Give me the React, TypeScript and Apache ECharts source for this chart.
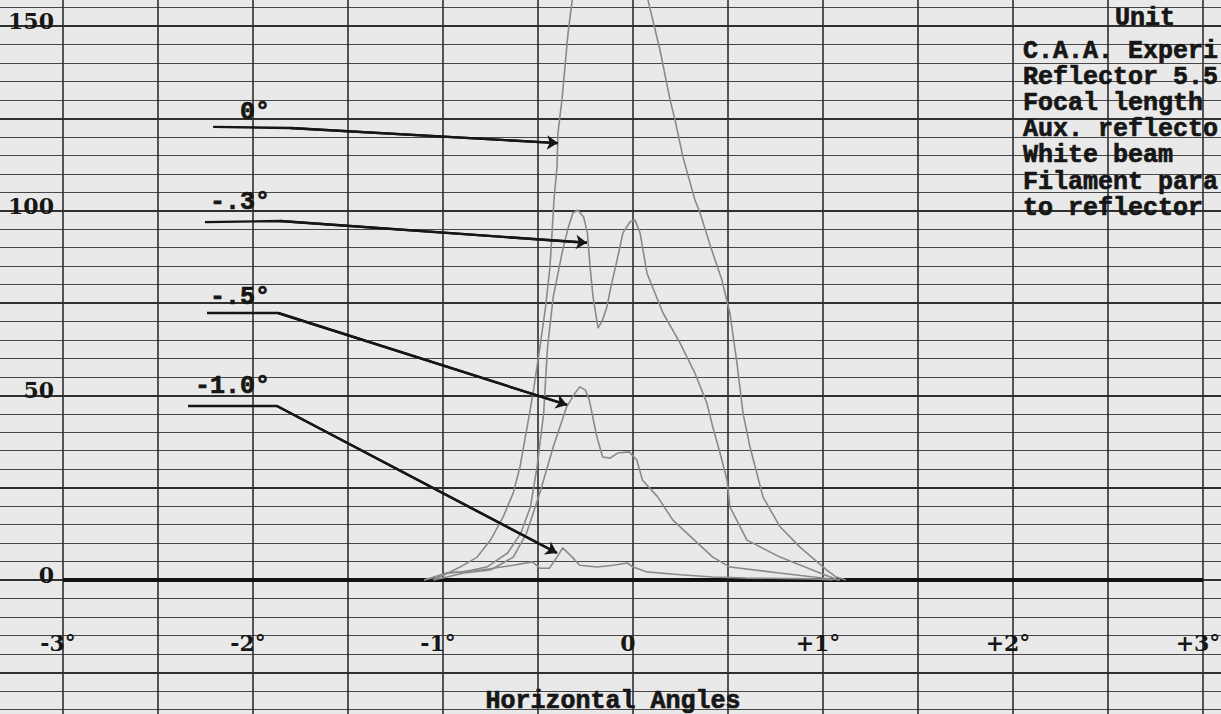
import React, { useEffect, useRef } from "react";
import * as echarts from "echarts";

// Axis ticks
const xTickValues = [-3, -2, -1, 0, 1, 2, 3];
const xTickLabels = ["-3°", "-2°", "-1°", "0", "+1°", "+2°", "+3°"];
const yTickValues = [0, 50, 100, 150];

// Zero baseline drawn across the full angle range
const baseline = [[-3, 0], [3, 0]];

// Candlepower curves (x: horizontal angle in degrees, y: value)
const curve0 = [
  [-1.1, 0], [-1.0, 1.2], [-0.91, 3.5], [-0.82, 6.2], [-0.75, 10.8], [-0.684, 17], [-0.63, 23.6],
  [-0.595, 30.6], [-0.56, 40.6], [-0.526, 50.6], [-0.49, 63], [-0.46, 74], [-0.437, 84.8],
  [-0.426, 94], [-0.416, 102.9], [-0.4, 111.8], [-0.395, 121], [-0.374, 130], [-0.358, 138.9],
  [-0.342, 148], [-0.32, 157], [-0.27, 172], [-0.18, 183], [-0.1, 185], [-0.02, 176], [0.04, 166],
  [0.079, 157], [0.142, 143.5], [0.195, 130], [0.221, 124.6], [0.263, 114.5], [0.326, 102.9],
  [0.353, 99.4], [0.41, 90], [0.468, 81.2], [0.51, 72.3], [0.547, 58.8], [0.579, 45.2], [0.616, 36],
  [0.684, 22.5], [0.774, 14.4], [0.879, 8.9], [1.02, 2.7], [1.07, 0.8], [1.12, 0],
];
const curveM03 = [
  [-1.1, 0], [-0.98, 1.9], [-0.89, 2.2], [-0.77, 3.5], [-0.66, 7.3], [-0.59, 12.7], [-0.54, 19.8],
  [-0.505, 30.6], [-0.47, 45.2], [-0.45, 63], [-0.42, 76.6], [-0.37, 89.4], [-0.34, 95.6],
  [-0.316, 99.4], [-0.29, 100.2], [-0.26, 98.3], [-0.24, 94], [-0.226, 84.8], [-0.21, 76.6],
  [-0.184, 68.2], [-0.16, 70.4], [-0.137, 74], [-0.12, 78.5], [-0.084, 86.6], [-0.053, 94],
  [-0.016, 97], [0.01, 97.5], [0.037, 94], [0.074, 83], [0.158, 72.3], [0.247, 64.2], [0.326, 56],
  [0.389, 47.9], [0.42, 41.4], [0.458, 34.4], [0.495, 27], [0.51, 19.8], [0.6, 10.8], [0.774, 6.2],
  [0.984, 1.9], [1.08, 0],
];
const curveM05 = [
  [-1.05, 0], [-0.98, 0.8], [-0.89, 1.9], [-0.75, 2.7], [-0.63, 6.2], [-0.56, 12.7], [-0.49, 23.6],
  [-0.42, 36], [-0.35, 46.8], [-0.305, 50.6], [-0.28, 52.3], [-0.25, 51.4], [-0.23, 48.7],
  [-0.19, 38.7], [-0.16, 33.3], [-0.12, 33], [-0.08, 34.4], [-0.02, 34.7], [0.02, 32.5], [0.05, 27],
  [0.13, 22.5], [0.21, 16.2], [0.34, 10], [0.42, 6.2], [0.51, 3.5], [0.77, 1.9], [0.95, 0.8], [1.09, 0],
];
const curveM10 = [
  [-1.05, 0], [-0.98, 1.9], [-0.8, 2.7], [-0.63, 4], [-0.53, 4.9], [-0.49, 3.2], [-0.44, 3.2],
  [-0.4, 6.2], [-0.37, 8.7], [-0.32, 6.2], [-0.28, 4], [-0.19, 3.5], [-0.105, 4], [-0.03, 4.6],
  [0, 3.5], [0.07, 2.2], [0.25, 1.4], [0.42, 0.8], [0.6, 0.5], [0.95, 0.3], [1.05, 0],
];

// Curve annotations
const annotationLabels = ["0°", "-.3°", "-.5°", "-1.0°"];
const annotationLabelPos = [[-1.911, 126.7], [-1.911, 102.1], [-1.911, 76.6], [-1.911, 52.3]];
const annotationLeaders = [
  [[-2.21, 122.7], [-1.805, 122.4], [-0.395, 118.3]],
  [[-2.253, 96.9], [-1.858, 97.2], [-0.242, 91.3]],
  [[-2.242, 72.3], [-1.868, 72.3], [-0.347, 47.4]],
  [[-2.342, 47.1], [-1.874, 47.1], [-0.4, 7.3]],
];

// Note block (top right, cut off by the page edge)
const noteTitle = "Unit";
const noteLines = [
  "C.A.A. Experi",
  "Reflector 5.5",
  "Focal length",
  "Aux. reflecto",
  "White beam",
  "Filament para",
  "to reflector",
];
const xAxisTitle = "Horizontal Angles";

const INK = "#161616";
const TYPE_FONT = "Liberation Mono";

// The chart canvas is larger than the page so the graph paper runs off every edge.
const OFFX = 40;
const OFFY = 80;
const CW = 1221 + OFFX + 90;
const CH = 714 + OFFY + 60;

export default function App() {
  const ref = useRef<HTMLDivElement>(null);
  useEffect(() => {
    const chart = echarts.init(ref.current!, null, { renderer: "svg" });
    const curveStyle = { color: "#8a8a8a", width: 1.6 };
    const curves = [curve0, curveM03, curveM05, curveM10];
    const typeText = {
      fill: INK,
      font: `bold 25px "${TYPE_FONT}"`,
      stroke: INK,
      lineWidth: 0.7,
    };
    const series: any[] = [
      {
        type: "line",
        data: baseline,
        symbol: "none",
        lineStyle: { color: "#111", width: 4 },
        z: 2,
        silent: true,
      },
      ...curves.map((c) => ({
        type: "line",
        data: c,
        symbol: "none",
        lineStyle: curveStyle,
        z: 3,
        silent: true,
      })),
      ...annotationLeaders.map((l) => ({
        type: "line",
        data: l,
        symbol: "none",
        lineStyle: { color: INK, width: 2.4 },
        z: 4,
        silent: true,
      })),
      {
        type: "lines",
        coordinateSystem: "cartesian2d",
        data: annotationLeaders.map((l) => ({ coords: [l[1], l[2]] })),
        symbol: ["none", "arrow"],
        symbolSize: 11,
        lineStyle: { color: INK, width: 2.4, opacity: 1 },
        z: 4,
        silent: true,
      },
      {
        type: "scatter",
        data: annotationLabelPos.map((p, i) => ({ value: p, name: annotationLabels[i] })),
        symbolSize: 0,
        itemStyle: { color: INK, opacity: 1 },
        label: {
          show: true,
          position: "left",
          distance: 0,
          formatter: "{b}",
          color: INK,
          opacity: 1,
          fontFamily: TYPE_FONT,
          fontWeight: "bold",
          fontSize: 25,
          textBorderColor: INK,
          textBorderWidth: 0.7,
        },
        emphasis: { disabled: true },
        z: 5,
        silent: true,
      },
    ];

    const option: any = {
      animation: false,
      backgroundColor: "#e9e9e9",
      grid: { left: 8, right: 13, top: 13.7, bottom: 9.35, containLabel: false },
      xAxis: {
        type: "value",
        min: -3.5,
        max: 3.5,
        interval: 0.5,
        axisLine: { show: false },
        axisTick: { show: false },
        splitLine: { show: true, lineStyle: { color: "#2e2e2e", width: 1.6 } },
        axisLabel: {
          inside: true,
          margin: 122,
          verticalAlign: "middle",
          padding: [0, 10, 0, 0],
          hideOverlap: false,
          color: INK,
          fontFamily: "DejaVu Serif",
          fontWeight: "bold",
          fontSize: 22,
          formatter: (v: number) => {
            const i = xTickValues.findIndex((t) => Math.abs(t - v) < 1e-6);
            return i >= 0 ? xTickLabels[i] : "";
          },
        },
      },
      yAxis: {
        type: "value",
        min: -50,
        max: 175,
        interval: 25,
        axisLine: { show: false },
        axisTick: { show: false },
        splitLine: { show: true, lineStyle: { color: "#303030", width: 2 } },
        minorTick: { show: false, splitNumber: 5 },
        minorSplitLine: { show: true, lineStyle: { color: "#474747", width: 1.2 } },
        axisLabel: {
          inside: true,
          align: "right",
          margin: 86,
          verticalAlign: "bottom",
          lineHeight: 10,
          hideOverlap: false,
          color: INK,
          fontFamily: "DejaVu Serif",
          fontWeight: "bold",
          fontSize: 22,
          formatter: (v: number) =>
            yTickValues.some((t) => Math.abs(t - v) < 1e-6) ? String(v) : "",
        },
      },
      graphic: [
        {
          type: "text",
          x: 1115 + OFFX,
          y: 18 + OFFY,
          z: 10,
          style: {
            ...typeText,
            text: noteTitle,
            textAlign: "left",
            textVerticalAlign: "middle",
          },
        },
        ...noteLines.map((t, i) => ({
          type: "text",
          x: 1023 + OFFX,
          y: 51 + i * 26.2 + OFFY,
          z: 10,
          style: {
            ...typeText,
            text: t,
            textAlign: "left",
            textVerticalAlign: "middle",
          },
        })),
        {
          type: "text",
          x: 613 + OFFX,
          y: 701 + OFFY,
          z: 10,
          style: {
            ...typeText,
            text: xAxisTitle,
            textAlign: "center",
            textVerticalAlign: "middle",
          },
        },
      ],
      series,
    };
    chart.setOption(option);
    return () => chart.dispose();
  }, []);
  return (
    <div
      style={{
        position: "absolute",
        left: 0,
        top: 0,
        width: 1221,
        height: 714,
        overflow: "hidden",
        background: "#e9e9e9",
      }}
    >
      <div
        ref={ref}
        style={{ position: "absolute", left: -OFFX, top: -OFFY, width: CW, height: CH }}
      />
    </div>
  );
}
